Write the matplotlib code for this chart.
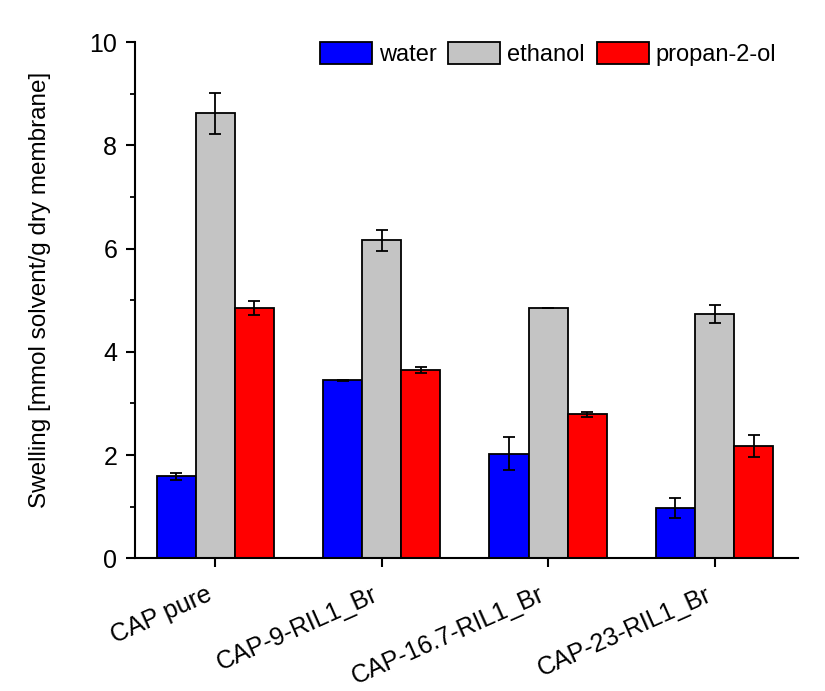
import numpy as np
import matplotlib
matplotlib.use("Agg")
import matplotlib.pyplot as plt
from matplotlib.ticker import MultipleLocator

plt.rcParams['font.family'] = ['Liberation Sans', 'DejaVu Sans']

samples = ["CAP pure", "CAP-9-RIL1_Br", "CAP-16.7-RIL1_Br", "CAP-23-RIL1_Br"]
solvents = ["water", "ethanol", "propan-2-ol"]
colors = ["#0000ff", "#c4c4c4", "#ff0000"]

water = [1.59, 3.45, 2.03, 0.98]
water_err = [0.07, 0.01, 0.32, 0.19]
ethanol = [8.62, 6.16, 4.84, 4.73]
ethanol_err = [0.40, 0.21, 0.0, 0.17]
propanol = [4.85, 3.65, 2.79, 2.18]
propanol_err = [0.13, 0.05, 0.05, 0.21]

values = [water, ethanol, propanol]
errors = [water_err, ethanol_err, propanol_err]

fig = plt.figure(figsize=(8.25, 6.91), dpi=100)
ax = fig.add_axes([0.164, 0.192, 0.803, 0.747])

x = np.arange(len(samples))
width = 0.235
for i, (vals, errs) in enumerate(zip(values, errors)):
    ax.bar(x + (i - 1) * width, vals, width, yerr=errs, color=colors[i],
           edgecolor="black", linewidth=1.3, label=solvents[i],
           error_kw=dict(ecolor="black", elinewidth=1.3, capsize=4.5, capthick=1.3))

ax.set_xlim(-0.48, 3.5)
ax.set_ylim(0, 10)
ax.yaxis.set_major_locator(MultipleLocator(2))
ax.yaxis.set_minor_locator(MultipleLocator(1))
ax.set_xticks(x)
ax.set_xticklabels(samples, rotation=24, ha="right", va="top")

for side in ["top", "right"]:
    ax.spines[side].set_visible(False)
for side in ["left", "bottom"]:
    ax.spines[side].set_linewidth(1.5)

ax.tick_params(axis="both", which="major", direction="out", length=6.5, width=1.5, labelsize=18)
ax.tick_params(axis="y", which="minor", direction="out", length=3.5, width=1.3)
ax.tick_params(axis="x", which="major", pad=11)
ax.tick_params(axis="y", which="major", pad=6.5)
ax.set_ylabel("Swelling [mmol solvent/g dry membrane]", fontsize=17.5)
ax.yaxis.set_label_coords(-0.128, 0.52)

ax.legend(loc="upper right", ncol=3, frameon=False, fontsize=17,
          handlelength=2.2, handleheight=1.1, handletextpad=0.3,
          columnspacing=0.5, bbox_to_anchor=(1.0, 1.042))

fig.savefig("out.png", dpi=100)
